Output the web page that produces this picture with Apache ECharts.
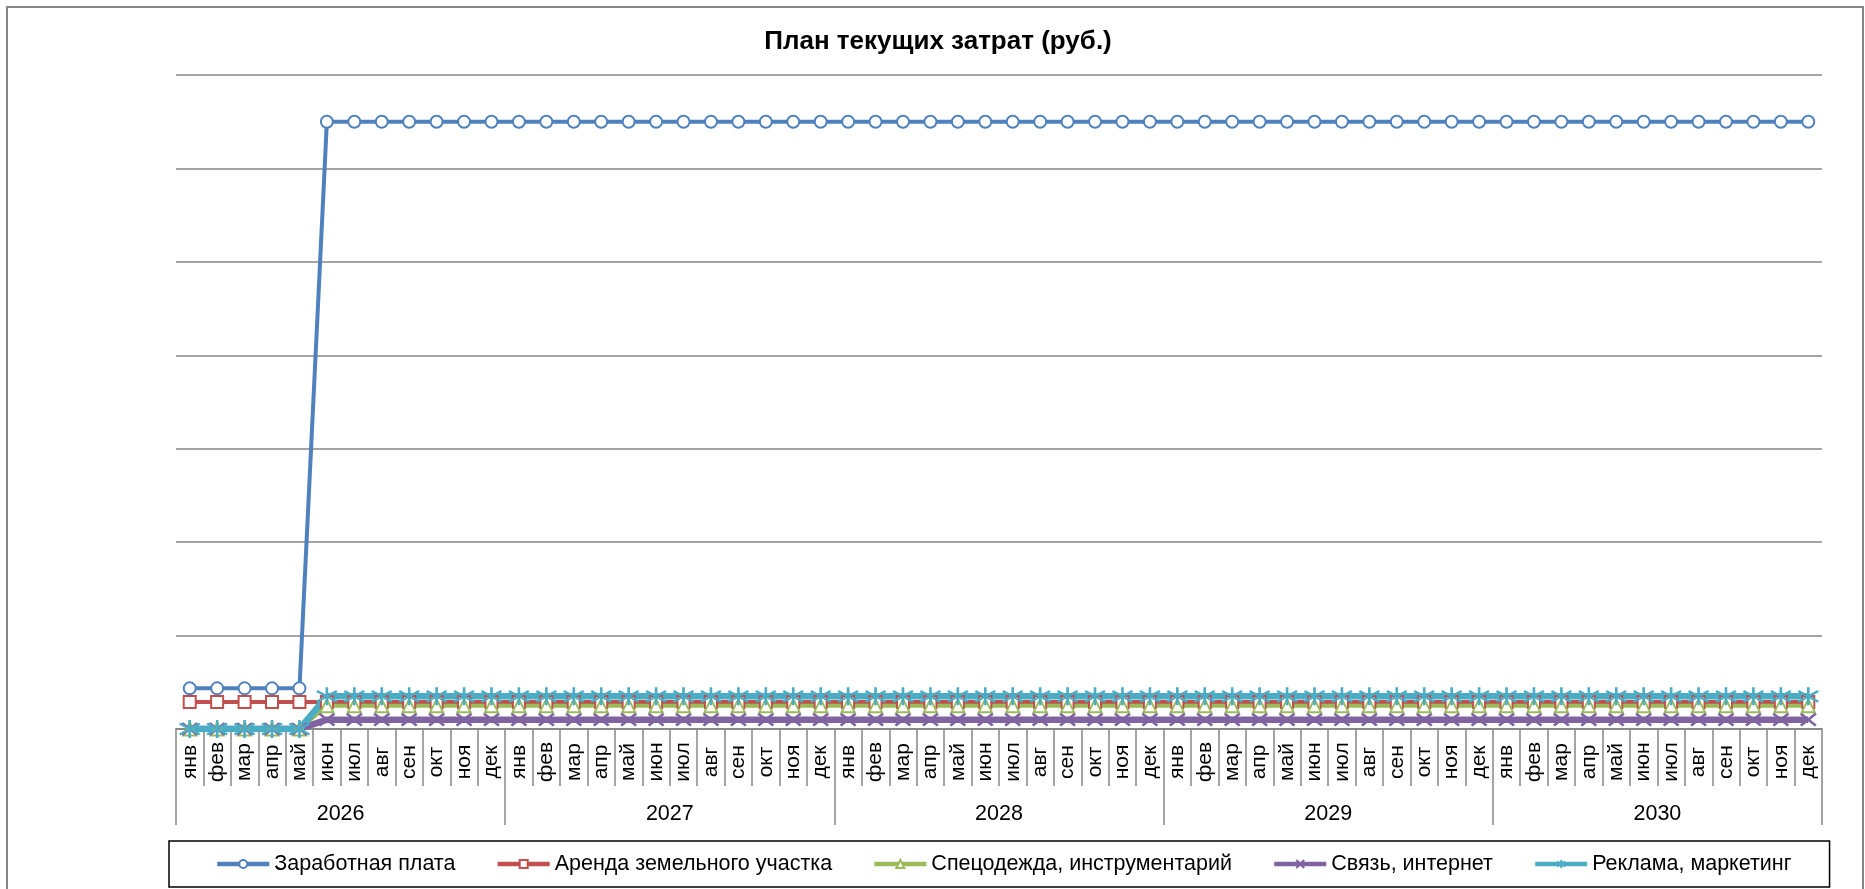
<!DOCTYPE html>
<html>
<head>
<meta charset="utf-8">
<title>План текущих затрат</title>
<script src="https://cdn.jsdelivr.net/npm/echarts@6.0.0/dist/echarts.min.js"></script>
<style>
    html, body { margin: 0; padding: 0; background: #fff; }
    #chart { width: 1865px; height: 889px; }
</style>
</head>
<body>
<div id="chart"></div>
<script>
const months = ['янв', 'фев', 'мар', 'апр', 'май', 'июн', 'июл', 'авг', 'сен', 'окт', 'ноя', 'дек'];
const years = ['2026', '2027', '2028', '2029', '2030'];

// one row per year, jan..dec
const salary = [
    43500, 43500, 43500, 43500, 43500, 650000, 650000, 650000, 650000, 650000, 650000, 650000,
    650000, 650000, 650000, 650000, 650000, 650000, 650000, 650000, 650000, 650000, 650000, 650000,
    650000, 650000, 650000, 650000, 650000, 650000, 650000, 650000, 650000, 650000, 650000, 650000,
    650000, 650000, 650000, 650000, 650000, 650000, 650000, 650000, 650000, 650000, 650000, 650000,
    650000, 650000, 650000, 650000, 650000, 650000, 650000, 650000, 650000, 650000, 650000, 650000
];
const landRent = [
    29000, 29000, 29000, 29000, 29000, 29000, 29000, 29000, 29000, 29000, 29000, 29000,
    29000, 29000, 29000, 29000, 29000, 29000, 29000, 29000, 29000, 29000, 29000, 29000,
    29000, 29000, 29000, 29000, 29000, 29000, 29000, 29000, 29000, 29000, 29000, 29000,
    29000, 29000, 29000, 29000, 29000, 29000, 29000, 29000, 29000, 29000, 29000, 29000,
    29000, 29000, 29000, 29000, 29000, 29000, 29000, 29000, 29000, 29000, 29000, 29000
];
const workwear = [
    0, 0, 0, 0, 0, 25000, 25000, 25000, 25000, 25000, 25000, 25000,
    25000, 25000, 25000, 25000, 25000, 25000, 25000, 25000, 25000, 25000, 25000, 25000,
    25000, 25000, 25000, 25000, 25000, 25000, 25000, 25000, 25000, 25000, 25000, 25000,
    25000, 25000, 25000, 25000, 25000, 25000, 25000, 25000, 25000, 25000, 25000, 25000,
    25000, 25000, 25000, 25000, 25000, 25000, 25000, 25000, 25000, 25000, 25000, 25000
];
const comms = [
    0, 0, 0, 0, 0, 10000, 10000, 10000, 10000, 10000, 10000, 10000,
    10000, 10000, 10000, 10000, 10000, 10000, 10000, 10000, 10000, 10000, 10000, 10000,
    10000, 10000, 10000, 10000, 10000, 10000, 10000, 10000, 10000, 10000, 10000, 10000,
    10000, 10000, 10000, 10000, 10000, 10000, 10000, 10000, 10000, 10000, 10000, 10000,
    10000, 10000, 10000, 10000, 10000, 10000, 10000, 10000, 10000, 10000, 10000, 10000
];
const marketing = [
    0, 0, 0, 0, 0, 35000, 35000, 35000, 35000, 35000, 35000, 35000,
    35000, 35000, 35000, 35000, 35000, 35000, 35000, 35000, 35000, 35000, 35000, 35000,
    35000, 35000, 35000, 35000, 35000, 35000, 35000, 35000, 35000, 35000, 35000, 35000,
    35000, 35000, 35000, 35000, 35000, 35000, 35000, 35000, 35000, 35000, 35000, 35000,
    35000, 35000, 35000, 35000, 35000, 35000, 35000, 35000, 35000, 35000, 35000, 35000
];

let monthCats = [];
years.forEach(y => months.forEach(m => monthCats.push(m)));

const font = "'Liberation Sans', Arial, sans-serif";
const gray = '#868686';

const chart = echarts.init(document.getElementById('chart'));

let lineSeries = (name, data, color, width, symbol, size, extra) => Object.assign({
    name: name,
    type: 'line',
    xAxisIndex: 0,
    data: data,
    symbol: symbol,
    symbolSize: size,
    showAllSymbol: true,
    animation: false,
    lineStyle: { color: color, width: width },
    itemStyle: { color: color, borderWidth: 2 }
}, extra || {});

let option = {
    textStyle: { fontFamily: font },
    title: {
        text: 'План текущих затрат (руб.)',
        left: 938,
        textAlign: 'center',
        top: 29,
        padding: 0,
        textStyle: { fontSize: 26, fontWeight: 'bold', color: '#000', fontFamily: font }
    },
    graphic: [{
        type: 'rect',
        shape: { x: 7, y: 7, width: 1856, height: 900 },
        style: { fill: 'none', stroke: gray, lineWidth: 2 },
        silent: true
    }],
    legend: {
        bottom: 2,
        left: 169,
        padding: [12, 38, 12, 46],
        borderColor: '#000',
        borderWidth: 1.5,
        itemGap: 40,
        itemWidth: 52,
        itemHeight: 10,
        lineStyle: { width: 4.5 },
        textStyle: { fontSize: 21.5, color: '#000', fontFamily: font }
    },
    grid: {
        left: 176,
        right: 43,
        top: 75,
        bottom: 160,
        containLabel: false
    },
    xAxis: [{
        type: 'category',
        data: monthCats,
        position: 'bottom',
        boundaryGap: true,
        axisLine: { show: true, lineStyle: { color: gray, width: 1.5 } },
        axisTick: { show: true, interval: 0, length: 57, lineStyle: { color: gray, width: 1.5 } },
        axisLabel: {
            interval: 0,
            rotate: 90,
            align: 'center',
            margin: 33,
            fontSize: 21,
            color: '#000',
            fontFamily: font
        }
    }, {
        type: 'category',
        data: years,
        position: 'bottom',
        boundaryGap: true,
        axisLine: { show: true, lineStyle: { color: gray, width: 1.5 } },
        axisTick: { show: true, interval: 0, length: 96, lineStyle: { color: gray, width: 1.5 } },
        axisLabel: { interval: 0, margin: 74, fontSize: 21.5, color: '#000', fontFamily: font }
    }],
    yAxis: {
        type: 'value',
        min: 0,
        max: 700000,
        interval: 100000,
        axisLine: { show: false },
        axisTick: { show: false },
        axisLabel: { show: false },
        splitLine: { lineStyle: { color: gray, width: 1.5 } }
    },
    series: [
        lineSeries('Заработная плата', salary, '#4F81BD', 4, 'emptyCircle', 12),
        lineSeries('Аренда земельного участка', landRent, '#C0504D', 4, 'emptyRect', 12),
        lineSeries('Спецодежда, инструментарий', workwear, '#9BBB59', 4, 'emptyTriangle', 13),
        lineSeries('Связь, интернет', comms, '#8064A2', 6.5, 'path://M0,0L10,8M10,0L0,8', [15, 12], {
            itemStyle: { color: '#8064A2', borderColor: '#8064A2', borderWidth: 2.5 }
        }),
        lineSeries('Реклама, маркетинг', marketing, '#4BACC6', 6.5, 'path://M5,0L5,10M0,2L10,8M10,2L0,8', [20, 18], {
            itemStyle: { color: '#4BACC6', borderColor: '#4BACC6', borderWidth: 2.5 }
        })
    ]
};

chart.setOption(option);
</script>
</body>
</html>
